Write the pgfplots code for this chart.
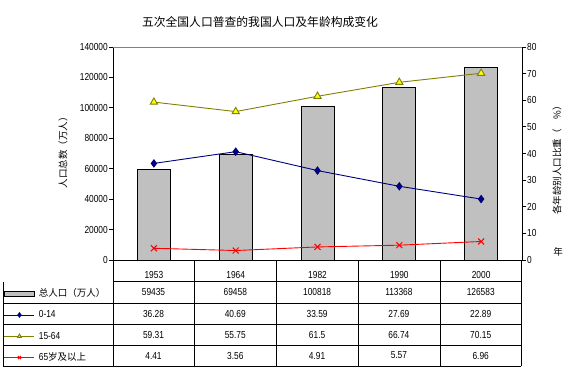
\documentclass[border=0pt]{standalone}
\usepackage{pgfplots}
\pgfplotsset{compat=1.18}
\usepackage{fontspec}
\setmainfont{Liberation Sans}[FakeStretch=0.82]
\newfontfamily\cjk{Noto Sans CJK SC}
\definecolor{barg}{RGB}{192,192,192}
\definecolor{navyc}{RGB}{0,0,128}
\definecolor{olivec}{RGB}{128,128,0}
\definecolor{yelc}{RGB}{255,255,0}
\newcommand\tfont{\fontsize{10.2}{11}\selectfont}
\pgfplotsset{
  barleg/.style={legend image code/.code={\draw[##1] (0pt,-2.5pt) rectangle (30pt,2.5pt);}},
  lineleg/.style={legend image code/.code={\draw[mark repeat=2,mark phase=2,##1,mark size=2.2pt] plot coordinates {(0pt,0pt)(15pt,0pt)(30pt,0pt)};}},
}
\begin{document}
\begin{tikzpicture}[x=1pt,y=1pt]
\useasboundingbox (0,0) rectangle (575,376);
\begin{axis}[
  at={(113pt,116pt)}, anchor=south west,
  scale only axis, width=409pt, height=213pt,
  xmin=-0.5, xmax=4.5, ymin=0, ymax=140000,
  axis x line*=bottom, axis y line*=left,
  xtick={0,...,4}, xticklabels={1953,1964,1982,1990,2000},
  xticklabel style={anchor=center, yshift=-10.5pt, font=\tfont},
  x tick style={draw=none},
  ytick={0,20000,...,140000},
  scaled y ticks=false,
  yticklabel style={/pgf/number format/fixed, /pgf/number format/1000 sep={}, font=\tfont, inner sep=1pt},
  /pgf/number format/assume math mode=true,
  tick align=outside, major tick length=4pt,
  axis line style={black, line width=0.9pt}, tick style={black, line width=0.8pt},
]
\addplot[ybar, bar width=33pt, fill=barg, draw=black, line width=0.9pt] coordinates {(0,59435) (1,69458) (2,100818) (3,113368) (4,126583)};
\end{axis}
\begin{axis}[
  at={(113pt,116pt)}, anchor=south west,
  scale only axis, width=409pt, height=213pt,
  xmin=-0.5, xmax=4.5, ymin=0, ymax=80,
  axis x line=none, axis y line*=right,
  ytick={0,10,...,80},
  yticklabel style={font=\tfont, inner sep=1pt},
  /pgf/number format/assume math mode=true,
  tick align=outside, major tick length=4pt,
  axis line style={black, line width=0.9pt}, tick style={black, line width=0.8pt},
  legend cell align=left,
  legend style={at={(axis description cs:-0.2665,-0.108)}, anchor=north west, draw=none, fill=none, inner sep=0pt, outer sep=0pt, row sep=0pt, column sep=4pt, nodes={inner sep=0pt, minimum height=21.3pt, font=\tfont}},
]
\addlegendimage{barleg, fill=barg, draw=black, line width=0.9pt}
\addlegendentry{\cjk\fontsize{9.5}{10}\selectfont 总人口（万人）}
\addplot[lineleg, navyc, line width=0.9pt, mark=diamond*, mark size=3.6pt, mark options={fill=navyc}] coordinates {(0,36.28) (1,40.69) (2,33.59) (3,27.69) (4,22.89)};
\addlegendentry{0-14}
\addplot[lineleg, olivec, line width=0.9pt, mark=triangle*, mark size=4.2pt, mark options={fill=yelc, draw=olivec}] coordinates {(0,59.31) (1,55.75) (2,61.5) (3,66.74) (4,70.15)};
\addlegendentry{15-64}
\addplot[lineleg, red, line width=0.9pt, mark=x, mark size=4.2pt, mark options={line width=1pt}] coordinates {(0,4.41) (1,3.56) (2,4.91) (3,5.57) (4,6.96)};
\addlegendentry{65{\cjk\fontsize{9.5}{10}\selectfont 岁及以上}}
\end{axis}
% top border of plot area
\draw[gray, line width=0.9pt] (113,329) -- (522,329);
% table grid
\begin{scope}[line width=0.9pt]
\draw[black] (113,376-281.5) -- (521,376-281.5);
\foreach \yy in {303,324.5,345} {\draw[black] (4,376-\yy) -- (521,376-\yy);}
\draw[black] (3,376-366) -- (521,376-366);
\foreach \xx in {113,194,276,358,440,521} {\draw[black] (\xx,116) -- (\xx,376-366);}
\end{scope}
\draw[black, line width=1.8pt] (3.5,376-282) -- (3.5,376-366);
% table values
\foreach \v [count=\i from 0] in {59435,69458,100818,113368,126583} {\node[font=\tfont] at (153.5+81.8*\i,376-292.2) {\v};}
\foreach \v [count=\i from 0] in {36.28,40.69,33.59,27.69,22.89} {\node[font=\tfont] at (153.5+81.8*\i,376-313.7) {\v};}
\foreach \v [count=\i from 0] in {59.31,55.75,61.5,66.74,70.15} {\node[font=\tfont] at (153.5+81.8*\i,376-334.7) {\v};}
\foreach \v [count=\i from 0] in {4.41,3.56,4.91,5.57,6.96} {\node[font=\tfont] at (153.5+81.8*\i,376-355.5) {\v};}
% titles
\node[font=\cjk\fontsize{11.8}{12}\selectfont] at (260,354) {五次全国人口普查的我国人口及年龄构成变化};
\node[font=\cjk\fontsize{9.5}{10}\selectfont, rotate=90] at (63,226) {人口总数（万人）};
\node[font=\cjk\fontsize{9.5}{10}\selectfont, rotate=90] at (557,218) {各年龄别人口比重（\quad\%）};
\node[font=\cjk\fontsize{9.5}{10}\selectfont] at (558,124) {年};
\end{tikzpicture}
\end{document}
